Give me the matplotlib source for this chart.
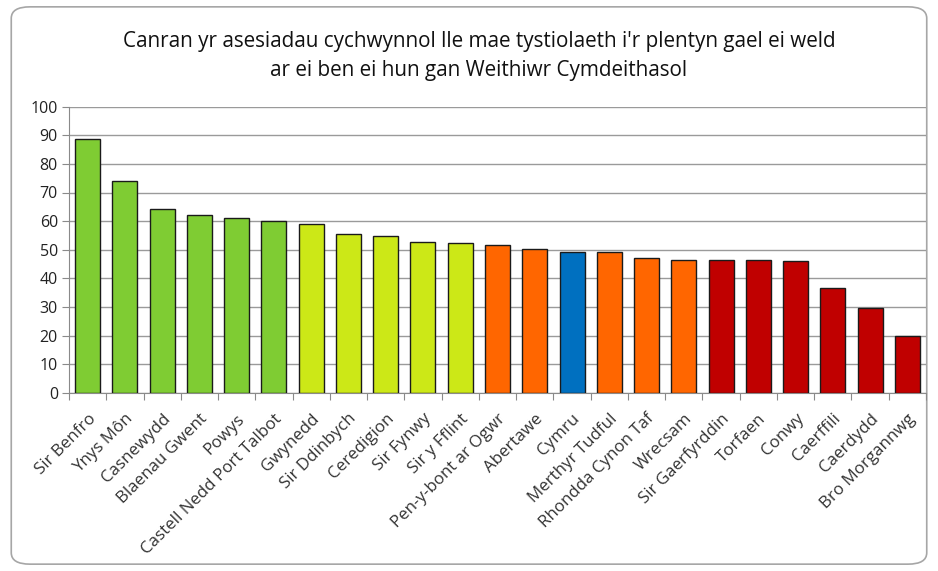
import matplotlib
matplotlib.use("Agg")
import matplotlib.pyplot as plt
from matplotlib.patches import FancyBboxPatch

categories = ["Sir Benfro", "Ynys Môn", "Casnewydd", "Blaenau Gwent", "Powys",
              "Castell Nedd Port Talbot", "Gwynedd", "Sir Ddinbych", "Ceredigion",
              "Sir Fynwy", "Sir y Fflint", "Pen-y-bont ar Ogwr", "Abertawe", "Cymru",
              "Merthyr Tudful", "Rhondda Cynon Taf", "Wrecsam", "Sir Gaerfyrddin",
              "Torfaen", "Conwy", "Caerffili", "Caerdydd", "Bro Morgannwg"]
values = [88.6, 74.1, 64.2, 62.1, 61.1, 60.0, 59.0, 55.4, 54.9, 52.8, 52.3,
          51.7, 50.1, 49.1, 49.1, 47.1, 46.5, 46.5, 46.5, 46.0, 36.7, 29.5, 19.7]
groups = ["g"] * 6 + ["y"] * 5 + ["o"] * 2 + ["b"] + ["o"] * 3 + ["r"] * 6
palette = {"g": "#7FCC33", "y": "#CCE817", "o": "#FF6600", "b": "#0070C0", "r": "#C00000"}
colors = [palette[g] for g in groups]
title = "Canran yr asesiadau cychwynnol lle mae tystiolaeth i'r plentyn gael ei weld\nar ei ben ei hun gan Weithiwr Cymdeithasol"

plt.rcParams['font.family'] = ['Open Sans', 'DejaVu Sans']

fig = plt.figure(figsize=(9.38, 5.71), dpi=100)
fig.patch.set_facecolor("white")
border = FancyBboxPatch((0.012, 0.012), 0.976, 0.976, boxstyle="round,pad=0,rounding_size=0.02",
                        transform=fig.transFigure, facecolor="none", edgecolor="#A6A6A6",
                        linewidth=1.2, zorder=-1)
fig.patches.append(border)

ax = fig.add_axes([69 / 938, 1 - 392.7 / 571, (926 - 69) / 938, (392.7 - 106.7) / 571])
ax.set_facecolor("none")
x = list(range(len(categories)))
ax.bar(x, values, width=0.67, color=colors, edgecolor="#1a1a1a", linewidth=1.0, zorder=3)
ax.set_xlim(-0.5, len(categories) - 0.5)
ax.set_ylim(0, 100)
ax.set_yticks(range(0, 101, 10))
ax.yaxis.grid(True, color="#9a9a9a", linewidth=1.0, zorder=0)
ax.set_axisbelow(True)
for s in ["top", "right"]:
    ax.spines[s].set_visible(False)
ax.spines["left"].set_color("#8a8a8a")
ax.spines["bottom"].set_color("#8a8a8a")
ax.tick_params(axis="y", length=5, color="#8a8a8a", labelsize=11.5, labelcolor="#222222", pad=3)
ax.set_xticks([i - 0.5 for i in range(len(categories) + 1)])
ax.set_xticklabels([])
ax.tick_params(axis="x", length=5, color="#8a8a8a")
ax.set_xticks(x, minor=True)
ax.set_xticklabels(categories, minor=True, rotation=45, ha="right", rotation_mode="anchor",
                   fontsize=12.2, color="#333333")
ax.tick_params(axis="x", which="minor", length=0, pad=13)

fig.text(479 / 938, 1 - 56 / 571, title, ha="center", va="center", fontsize=14.9,
         color="#111111", linespacing=1.5)

fig.savefig("out.png", dpi=100, facecolor="white")
